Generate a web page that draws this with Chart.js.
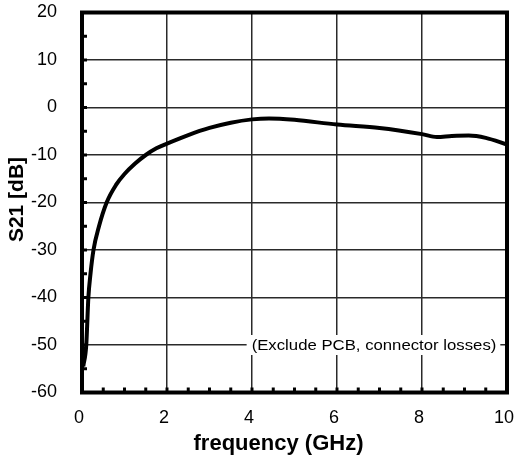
<!DOCTYPE html>
<html>
<head>
<meta charset="utf-8">
<script src="https://cdn.jsdelivr.net/npm/chart.js@4.4.1/dist/chart.umd.min.js"></script>
<style>
  html, body { margin: 0; padding: 0; background: #fff; }
  #wrap { width: 515px; height: 461px; }
</style>
</head>
<body>
<div id="wrap"><canvas id="myChart" width="515" height="461"></canvas></div>
<script>
// data ------------------------------------------------------------------
const freqGHz = [0.03, 0.1, 0.15, 0.2, 0.27, 0.4, 0.58, 0.8, 1.0, 1.25, 1.5, 1.75, 2, 2.5, 3, 3.5, 4, 4.4, 5, 6, 7, 8, 8.35, 8.7, 9.1, 9.5, 10];
const s21dB = [-54.5, -50, -40, -35, -30, -25, -20, -16.3, -14, -11.8, -10, -8.6, -7.6, -5.8, -4.3, -3.2, -2.5, -2.3, -2.6, -3.6, -4.3, -5.6, -6.2, -6.0, -5.9, -6.4, -7.8];
const xTicks = [0, 2, 4, 6, 8, 10];
const yTicks = [-60, -50, -40, -30, -20, -10, 0, 10, 20];
const xMinor = [0.5, 1, 1.5, 2, 2.5, 3, 3.5, 4, 4.5, 5, 5.5, 6, 6.5, 7, 7.5, 8, 8.5, 9, 9.5];
const yMinor = [-55, -50, -45, -40, -35, -30, -25, -20, -15, -10, -5, 0, 5, 10, 15];
const xTitle = "frequency (GHz)";
const yTitle = "S21 [dB]";
const noteText = "(Exclude PCB, connector losses)";
const noteAt = { x: 6.87, y: -50 };

const FONT = "'Liberation Sans', Arial, sans-serif";

// frame, minor ticks, titles and the note --------------------------------
const extras = {
  id: "extras",
  afterDatasetsDraw(chart) {
    const ctx = chart.ctx;
    const a = chart.chartArea;
    const xs = chart.scales.x;
    const ys = chart.scales.y;
    ctx.save();

    // note with white box over the gridline (slightly wide, like the original)
    const nx = xs.getPixelForValue(noteAt.x);
    const ny = ys.getPixelForValue(noteAt.y);
    ctx.font = "15.5px " + FONT;
    const stretch = 1.08;
    const w = ctx.measureText(noteText).width * stretch;
    ctx.fillStyle = "#fff";
    ctx.fillRect(nx - w / 2 - 5, ny - 10, w + 9, 20);
    ctx.save();
    ctx.translate(nx, ny);
    ctx.scale(stretch, 1);
    ctx.fillStyle = "#000";
    ctx.textAlign = "center";
    ctx.textBaseline = "middle";
    ctx.fillText(noteText, 0, 1);
    ctx.restore();

    // minor ticks, pointing inward
    ctx.strokeStyle = "#000";
    ctx.lineWidth = 3;
    yMinor.forEach((v) => {
      const py = ys.getPixelForValue(v);
      ctx.beginPath();
      ctx.moveTo(a.left, py);
      ctx.lineTo(a.left + 5, py);
      ctx.stroke();
    });
    xMinor.forEach((v) => {
      const px = xs.getPixelForValue(v);
      ctx.beginPath();
      ctx.moveTo(px, a.bottom);
      ctx.lineTo(px, a.bottom - 5);
      ctx.stroke();
    });

    // thick frame
    ctx.lineWidth = 4;
    ctx.strokeRect(a.left, a.top, a.right - a.left, a.bottom - a.top);

    // axis titles (sit a little left / up of centre in the original)
    ctx.fillStyle = "#000";
    ctx.font = "bold 22px " + FONT;
    ctx.textAlign = "center";
    ctx.textBaseline = "middle";
    ctx.fillText(xTitle, (a.left + a.right) / 2 - 16, a.bottom + 51);
    ctx.save();
    ctx.translate(17, (a.top + a.bottom) / 2 - 3);
    ctx.rotate(-Math.PI / 2);
    ctx.font = "bold 21px " + FONT;
    ctx.fillText(yTitle, 0, 0);
    ctx.restore();

    ctx.restore();
  },
};

const ctx = document.getElementById("myChart").getContext("2d");
const myChart = new Chart(ctx, {
  type: "line",
  data: {
    datasets: [
      {
        data: freqGHz.map((f, i) => ({ x: f, y: s21dB[i] })),
        borderColor: "#000",
        borderWidth: 4,
        pointRadius: 0,
        cubicInterpolationMode: "monotone",
        fill: false,
      },
    ],
  },
  options: {
    responsive: false,
    animation: false,
    layout: { padding: { top: 12.5, right: 8, left: 0, bottom: 0 } },
    plugins: { legend: { display: false }, tooltip: { enabled: false } },
    scales: {
      x: {
        type: "linear",
        min: 0,
        max: 10,
        afterBuildTicks: (s) => { s.ticks = xTicks.map((v) => ({ value: v })); },
        afterFit: (s) => {
          s.height = 68.5;
          s.paddingLeft = 0;
          s.paddingRight = 0;
        },
        grid: { color: "#2a2a2a", lineWidth: 1.5, drawTicks: false },
        border: { display: false },
        ticks: { color: "#000", padding: 15, labelOffset: -3, font: { family: FONT, size: 18 } },
        title: { display: false },
      },
      y: {
        type: "linear",
        min: -60,
        max: 20,
        afterBuildTicks: (s) => { s.ticks = yTicks.map((v) => ({ value: v })); },
        afterFit: (s) => {
          s.width = 82;
          s.paddingTop = 0;
          s.paddingBottom = 0;
        },
        grid: { color: "#2a2a2a", lineWidth: 1.5, drawTicks: false },
        border: { display: false },
        ticks: { color: "#000", padding: 25, font: { family: FONT, size: 18 } },
        title: { display: false },
      },
    },
  },
  plugins: [extras],
});
</script>
</body>
</html>
